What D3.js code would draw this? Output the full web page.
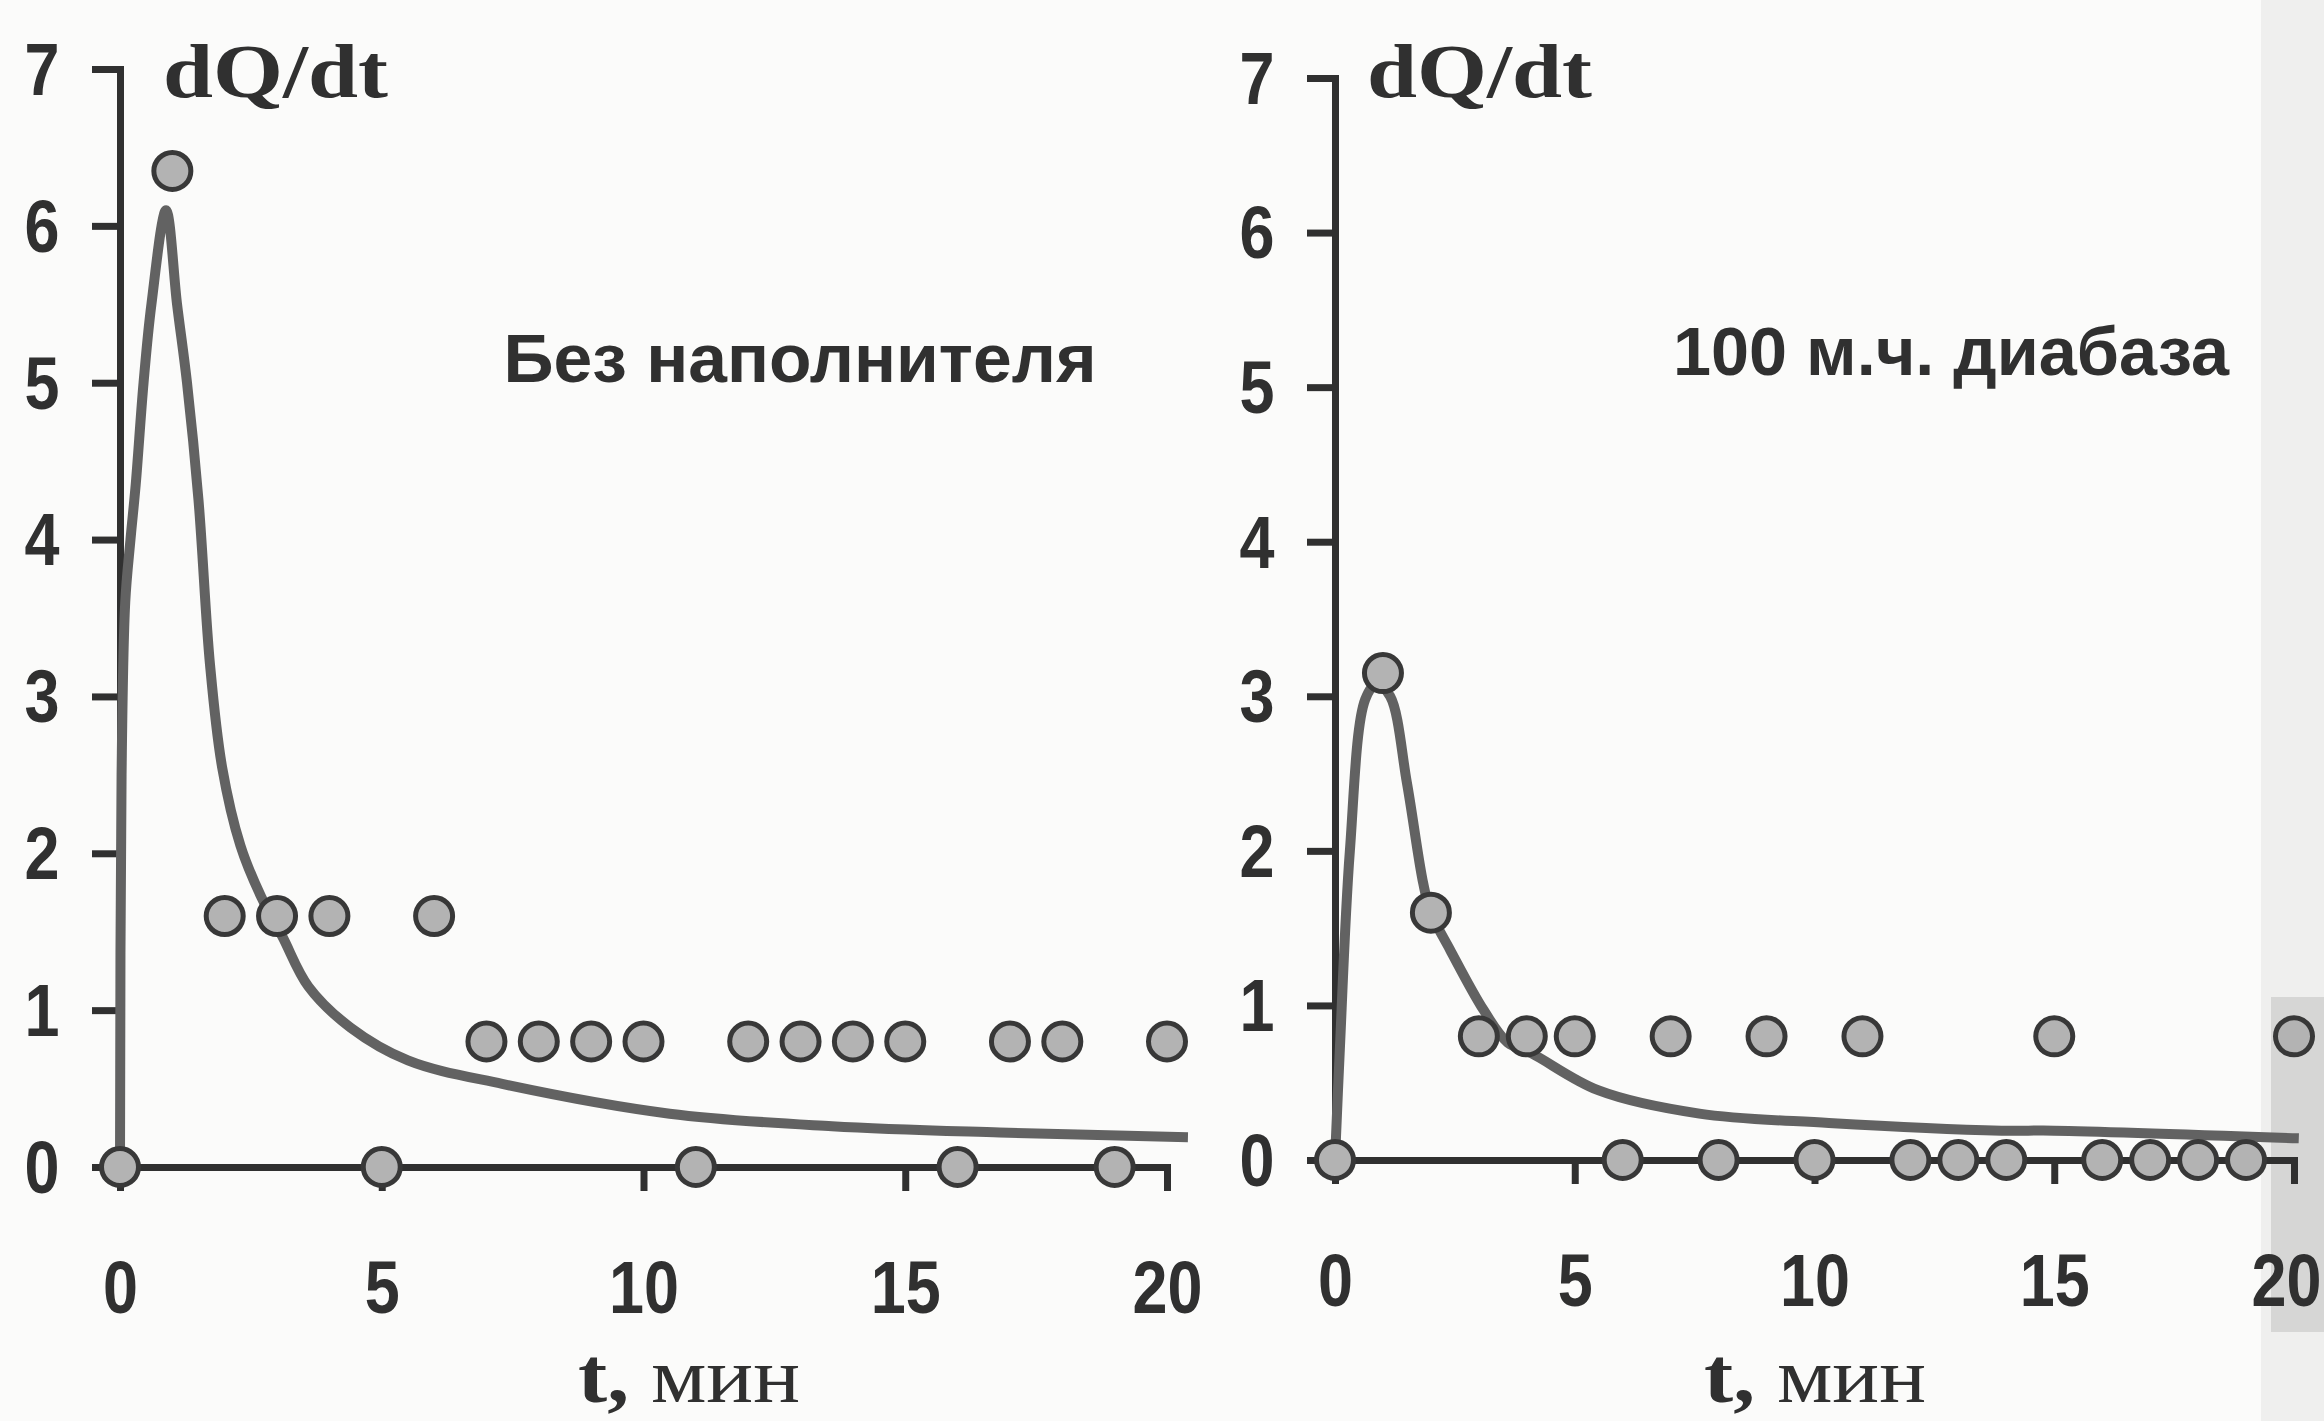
<!DOCTYPE html>
<html>
<head>
<meta charset="utf-8">
<script src="https://cdn.jsdelivr.net/npm/d3@7"></script>
<style>
  body { margin: 0; background: #fbfbfa; }
  svg { display: block; }
</style>
</head>
<body>
<script>
// ось времени и ось скорости
const timeTicks = [0, 5, 10, 15, 20];
const rateTicks = [0, 1, 2, 3, 4, 5, 6, 7];

// точки: без наполнителя
const leftTime = [0, 1, 2, 3, 4, 5, 6, 7, 8, 9, 10, 11, 12, 13, 14, 15, 16, 17, 18, 19, 20];
const leftRate = [0, 6.35, 1.6, 1.6, 1.6, 0, 1.6, 0.8, 0.8, 0.8, 0.8, 0, 0.8, 0.8, 0.8, 0.8, 0, 0.8, 0.8, 0, 0.8];

// сглаживающая кривая: без наполнителя
const leftFitTime = [0, 0.03, 0.1, 0.2, 0.3, 0.45, 0.6, 0.88, 1.09, 1.28, 1.5, 1.72, 1.95, 2.3, 2.7, 3.1, 3.6, 4.4, 5.5, 7.3, 10.5, 13.6, 16.8, 20.4];
const leftFitRate = [0, 2.5, 3.6, 4.0, 4.35, 5.0, 5.5, 6.1, 5.5, 5.0, 4.25, 3.2, 2.55, 2.05, 1.72, 1.47, 1.15, 0.89, 0.68, 0.53, 0.34, 0.26, 0.22, 0.19];

// точки: 100 м.ч. диабаза
const rightTime = [0, 1, 2, 3, 4, 5, 6, 7, 8, 9, 10, 11, 12, 13, 14, 15, 16, 17, 18, 19, 20];
const rightRate = [0, 3.15, 1.6, 0.8, 0.8, 0.8, 0, 0.8, 0, 0.8, 0, 0.8, 0, 0, 0, 0.8, 0, 0, 0, 0, 0.8];

// сглаживающая кривая: 100 м.ч. диабаза
const rightFitTime = [0, 0.1, 0.31, 0.63, 0.87, 1.15, 1.5, 1.84, 2.0, 2.4, 3.1, 3.6, 4.1, 5.5, 7.6, 10.3, 13.9, 15, 20.1];
const rightFitRate = [0, 0.71, 2.0, 2.98, 3.08, 3.0, 2.44, 1.79, 1.6, 1.36, 0.97, 0.76, 0.69, 0.45, 0.3, 0.24, 0.19, 0.19, 0.14];

const panelLabels = ['Без наполнителя', '100 м.ч. диабаза'];
const yTitle = 'dQ/dt';
const xTitle = ['t,', ' мин'];

const ink = '#303030';
const sans = "'Liberation Sans', Arial, sans-serif";
const serif = "'Liberation Serif', 'Times New Roman', serif";

const svg = d3.select('body').append('svg')
    .attr('width', 2324)
    .attr('height', 1421);

// полоса скана у правого края
svg.append('rect').attr('x', 2261).attr('y', 0).attr('width', 63).attr('height', 1421).attr('fill', '#efefee');
svg.append('rect').attr('x', 2271).attr('y', 997).attr('width', 53).attr('height', 335).attr('fill', '#d6d6d5');

const panels = [
    { time: leftTime, rate: leftRate, fitT: leftFitTime, fitV: leftFitRate, label: panelLabels[0],
      x0: 120, x1: 1167, y0: 1167, y1: 69, labelX: 800, labelY: 382, labelW: 593,
      titleX: 163, unitX: 689, unitW: 222, lastShift: 0 },
    { time: rightTime, rate: rightRate, fitT: rightFitTime, fitV: rightFitRate, label: panelLabels[1],
      x0: 1335, x1: 2294, y0: 1160, y1: 78, labelX: 1951, labelY: 375, labelW: 556,
      titleX: 1367, unitX: 1815, unitW: 222, lastShift: -8 }
];

const drawPanel = (p) => {
    const x = d3.scaleLinear().domain([0, 20]).range([p.x0, p.x1]);
    const y = d3.scaleLinear().domain([0, 7]).range([p.y0, p.y1]);
    const g = svg.append('g');

    // ось Y
    const yAxis = g.append('g')
        .attr('transform', `translate(${p.x0},0)`)
        .call(d3.axisLeft(y).tickValues(rateTicks).tickSizeInner(28).tickSizeOuter(0).tickFormat(d3.format('d')));

    // ось X
    const xAxis = g.append('g')
        .attr('transform', `translate(0,${p.y0})`)
        .call(d3.axisBottom(x).tickValues(timeTicks).tickSizeInner(24).tickSizeOuter(0).tickFormat(d3.format('d')));

    [yAxis, xAxis].forEach(a => {
        a.select('.domain').attr('stroke', ink).attr('stroke-width', 7).attr('stroke-linecap', 'square');
        a.selectAll('.tick line').attr('stroke', ink).attr('stroke-width', 7);
        a.selectAll('.tick text')
            .attr('fill', ink)
            .style('font-family', sans)
            .style('font-weight', 'bold')
            .style('font-size', '74px')
            .attr('text-anchor', 'middle')
            .attr('dominant-baseline', 'central')
            .attr('dy', null);
    });
    yAxis.selectAll('.tick text').attr('x', 0).attr('transform', 'translate(-78,0) scale(0.85,1)');
    xAxis.selectAll('.tick text').attr('y', 0)
        .attr('transform', d => `translate(${d === 20 ? p.lastShift : 0},121) scale(0.85,1)`);

    // кривая
    const fit = p.fitT.map((t, i) => [t, p.fitV[i]]);
    g.append('path')
        .datum(fit)
        .attr('fill', 'none')
        .attr('stroke', '#626262')
        .attr('stroke-width', 10)
        .attr('stroke-linejoin', 'round')
        .attr('d', d3.line().x(d => x(d[0])).y(d => y(d[1])).curve(d3.curveCatmullRom.alpha(0.5)));

    // точки
    const pts = p.time.map((t, i) => [t, p.rate[i]]);
    g.selectAll('circle.pt')
        .data(pts)
        .enter().append('circle')
        .attr('class', 'pt')
        .attr('cx', d => x(d[0]))
        .attr('cy', d => y(d[1]))
        .attr('r', 18.5)
        .attr('fill', '#b3b3b3')
        .attr('stroke', '#383838')
        .attr('stroke-width', 5);

    // подписи
    g.append('text')
        .attr('x', p.titleX)
        .attr('y', 97)
        .attr('fill', ink)
        .style('font-family', serif)
        .style('font-weight', 'bold')
        .style('font-size', '76px')
        .attr('textLength', 225)
        .attr('lengthAdjust', 'spacingAndGlyphs')
        .text(yTitle);

    g.append('text')
        .attr('x', p.labelX - p.labelW / 2)
        .attr('y', p.labelY)
        .attr('fill', ink)
        .style('font-family', sans)
        .style('font-weight', 'bold')
        .style('font-size', '68px')
        .attr('textLength', p.labelW)
        .attr('lengthAdjust', 'spacingAndGlyphs')
        .text(p.label);

    const unit = g.append('text')
        .attr('x', p.unitX - p.unitW / 2)
        .attr('y', 1402)
        .attr('fill', ink)
        .style('font-family', serif)
        .style('font-size', '78px')
        .attr('textLength', p.unitW)
        .attr('lengthAdjust', 'spacingAndGlyphs');
    unit.append('tspan').style('font-weight', 'bold').text(xTitle[0]);
    unit.append('tspan').text(xTitle[1]);
};

panels.forEach(drawPanel);
</script>
</body>
</html>
